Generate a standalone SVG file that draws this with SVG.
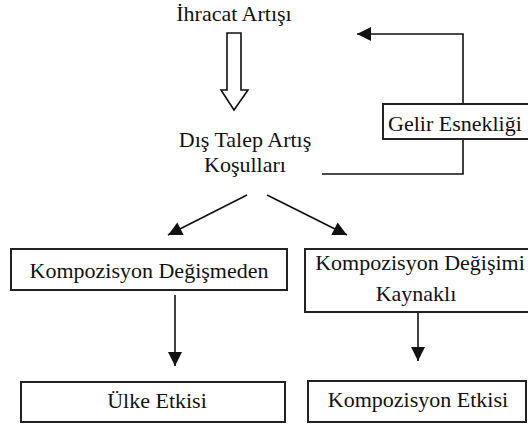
<svg xmlns="http://www.w3.org/2000/svg" width="528" height="426" viewBox="0 0 528 426" font-family="'Liberation Serif', serif" font-size="22">
<defs>
<style>
text{font-family:'Liberation Serif',serif;font-size:22px;fill:#111}
.box{fill:#fff;stroke:#222;stroke-width:2}
.ln{fill:none;stroke:#111;stroke-width:1.6}
</style>
<marker id="ah" markerUnits="userSpaceOnUse" markerWidth="16" markerHeight="16" viewBox="0 0 16 16" refX="15" refY="8" orient="auto">
<path d="M1,1 L15,8 L1,15 Z" fill="#111"/>
</marker>
</defs>
<rect width="528" height="426" fill="#fff"/>
<g id="connectors">
<path class="ln" d="M234,33 L241,33 L241,90 L248,90 L234,110 L221,90 L227,90 L227,33 Z" stroke-linejoin="miter"/>
<path class="ln" d="M463,104 L463,34 L357,34" marker-end="url(#ah)"/>
<path class="ln" d="M322,174 L463,174 L463,139"/>
<line class="ln" x1="247" y1="195" x2="168" y2="235" marker-end="url(#ah)"/>
<line class="ln" x1="267" y1="195" x2="347" y2="235" marker-end="url(#ah)"/>
<line class="ln" x1="175" y1="295" x2="175" y2="366" marker-end="url(#ah)"/>
<line class="ln" x1="418" y1="312" x2="418" y2="361" marker-end="url(#ah)"/>
</g>
<g id="ihracat">
<text x="234" y="21" text-anchor="middle">İhracat Artışı</text>
</g>
<g id="dis-talep">
<text x="245" y="147" text-anchor="middle">Dış Talep Artış</text>
<text x="245" y="172" text-anchor="middle">Koşulları</text>
</g>
<g id="gelir">
<rect class="box" x="383" y="104" width="160" height="35"/>
<text x="388" y="131">Gelir Esnekliği</text>
</g>
<g id="komp-degismeden">
<rect class="box" x="11" y="249" width="276" height="41"/>
<text x="149" y="278" text-anchor="middle">Kompozisyon Değişmeden</text>
</g>
<g id="komp-degisimi">
<rect class="box" x="305" y="249" width="240" height="63"/>
<text x="420" y="270" text-anchor="middle">Kompozisyon Değişimi</text>
<text x="416" y="301" text-anchor="middle">Kaynaklı</text>
</g>
<g id="ulke">
<rect class="box" x="21" y="382" width="264" height="40"/>
<text x="157" y="408" text-anchor="middle">Ülke Etkisi</text>
</g>
<g id="komp-etkisi">
<rect class="box" x="308" y="381" width="218" height="41"/>
<text x="418" y="407" text-anchor="middle">Kompozisyon Etkisi</text>
</g>
</svg>
